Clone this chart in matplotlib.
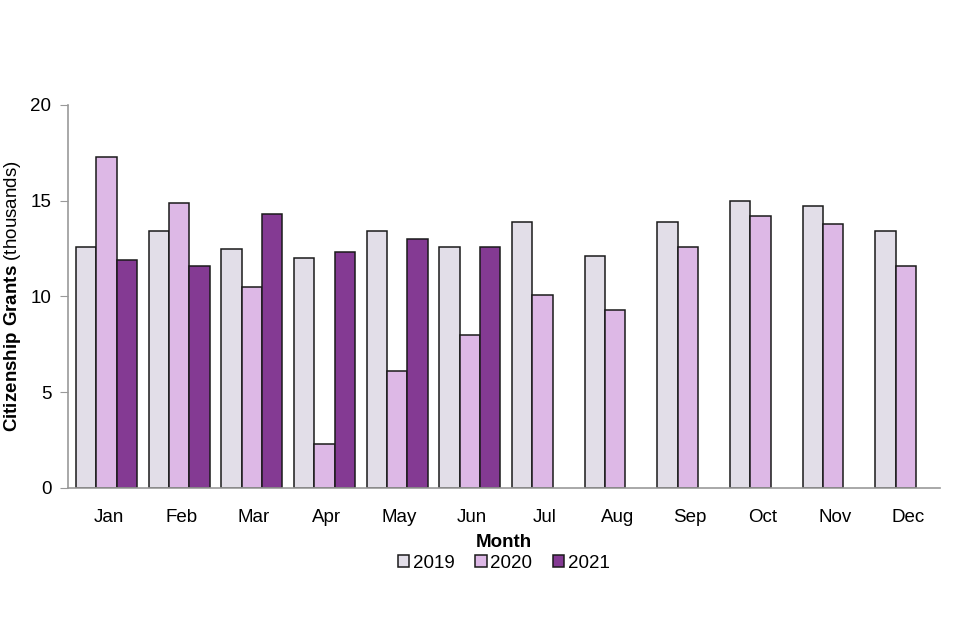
import matplotlib
matplotlib.use('Agg')
import matplotlib.pyplot as plt
import numpy as np

plt.rcParams['font.family'] = ['Liberation Sans', 'DejaVu Sans']
plt.rcParams['mathtext.fontset'] = 'custom'
plt.rcParams['mathtext.rm'] = 'Liberation Sans'
plt.rcParams['mathtext.bf'] = 'Liberation Sans:bold'

months = ['Jan', 'Feb', 'Mar', 'Apr', 'May', 'Jun', 'Jul', 'Aug', 'Sep', 'Oct', 'Nov', 'Dec']
grants_2019 = [12.6, 13.4, 12.5, 12.0, 13.4, 12.6, 13.9, 12.1, 13.9, 15.0, 14.7, 13.4]
grants_2020 = [17.3, 14.9, 10.5, 2.3, 6.1, 8.0, 10.1, 9.3, 12.6, 14.2, 13.8, 11.6]
grants_2021 = [11.9, 11.6, 14.3, 12.3, 13.0, 12.6, np.nan, np.nan, np.nan, np.nan, np.nan, np.nan]

series = [('2019', grants_2019, '#E2DEE8'),
          ('2020', grants_2020, '#DDB8E6'),
          ('2021', grants_2021, '#843A93')]

fig = plt.figure(figsize=(9.6, 6.4), dpi=100)
ax = fig.add_axes([0.071, 0.2375, 0.908, 0.5985])

x = np.arange(len(months))
w = 0.28
for i, (name, vals, col) in enumerate(series):
    ax.bar(x + (i - 1) * w + 0.03, vals, w, color=col, edgecolor='#1a1a1a', linewidth=1.1, label=name)

ax.set_xlim(-0.5, len(months) - 0.5)
ax.set_ylim(0, 20)
ax.set_yticks([0, 5, 10, 15, 20])
ax.set_xticks(x + 0.06)
ax.set_xticklabels(months)
ax.tick_params(axis='both', labelsize=13.5, colors='#999999', labelcolor='black')
ax.tick_params(axis='x', length=0, pad=15)
ax.tick_params(axis='y', length=6, pad=6)
for s in ['top', 'right']:
    ax.spines[s].set_visible(False)
for s in ['left', 'bottom']:
    ax.spines[s].set_color('#999999')
    ax.spines[s].set_linewidth(1.2)

ax.set_xlabel('Month', fontsize=13.5, fontweight='bold', labelpad=6)
ax.set_ylabel(r'$\mathbf{Citizenship\ Grants}$ (thousands)', fontsize=13.5)
ax.yaxis.set_label_coords(-0.052, 0.5)

ax.legend(loc='upper center', bbox_to_anchor=(0.5, -0.13), ncol=3, frameon=False,
          fontsize=13.5, handlelength=0.6, handleheight=0.6, handletextpad=0.2,
          columnspacing=1.1)

fig.savefig('out.png', dpi=100)
